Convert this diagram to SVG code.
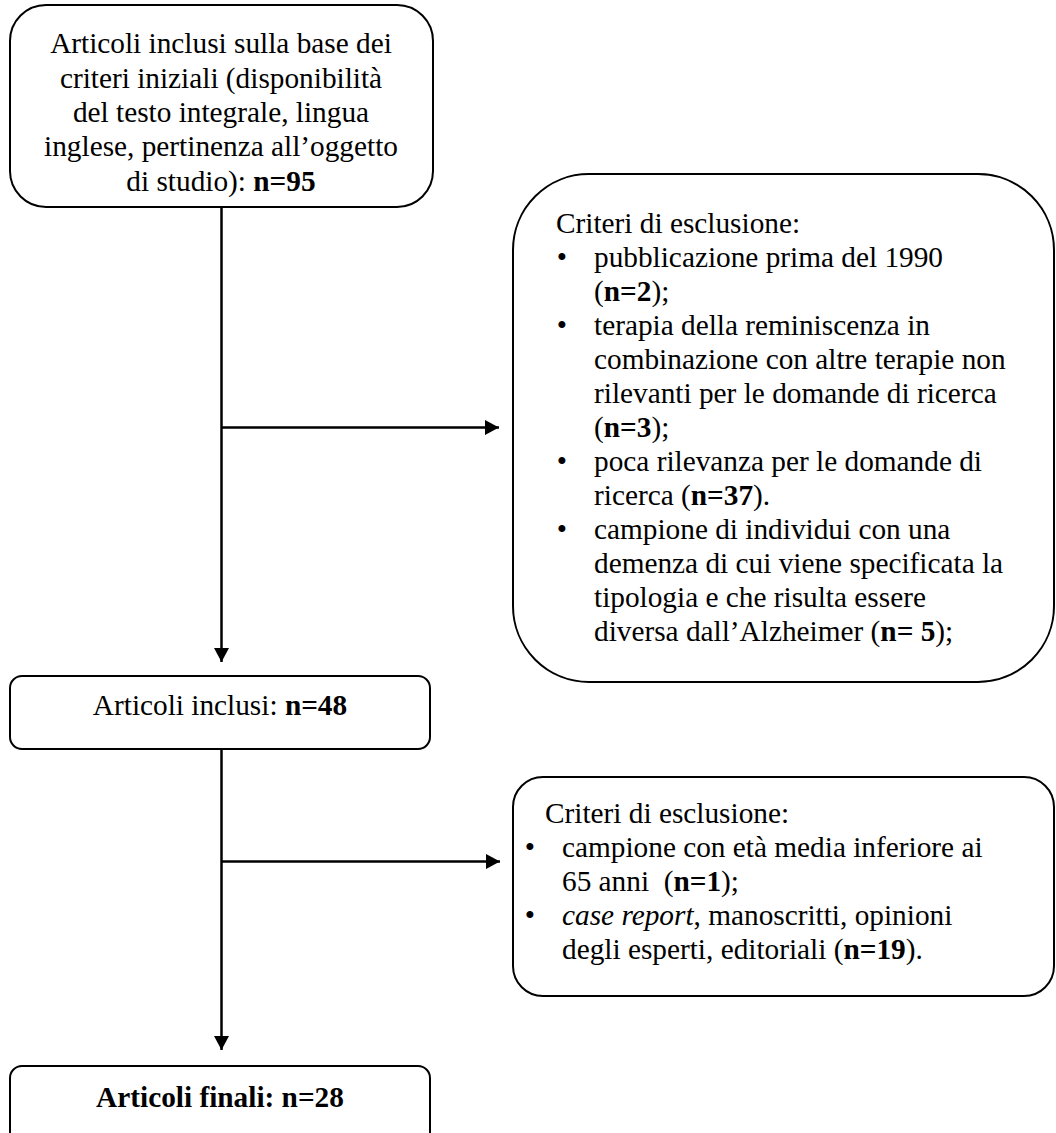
<svg xmlns="http://www.w3.org/2000/svg" width="1056" height="1133" viewBox="0 0 1056 1133">
<defs>
<style>
.box{fill:#fff;stroke:#000;stroke-width:2}
.t{font-family:"Liberation Serif","Times New Roman",serif;font-size:29.3px;fill:#000}
.c{text-anchor:middle}
.b{font-weight:bold}
.i{font-style:italic}
.ln{fill:none;stroke:#000;stroke-width:2.5;marker-end:url(#ah)}
</style>
<marker id="ah" markerUnits="userSpaceOnUse" viewBox="0 0 14 15" refX="14" refY="7.5" markerWidth="14" markerHeight="15" orient="auto">
<path d="M0,0 L14,7.5 L0,15 z" fill="#000"/>
</marker>
</defs>
<rect width="1056" height="1133" fill="#fff"/>
<g id="connectors">
<path class="ln" d="M221.5,207 V662"/>
<path class="ln" d="M221.5,427.5 H499"/>
<path class="ln" d="M221.5,749 V1050"/>
<path class="ln" d="M221.5,861.5 H500"/>
</g>
<g id="node-start">
<rect class="box" x="10" y="5" width="423" height="202" rx="36" ry="36"/>
<text class="t c" x="221"><tspan x="221" y="53">Articoli inclusi sulla base dei</tspan><tspan x="221" y="87.5">criteri iniziali (disponibilità</tspan><tspan x="221" y="122">del testo integrale, lingua</tspan><tspan x="221" y="156">inglese, pertinenza all’oggetto</tspan><tspan x="221" y="190.5">di studio): <tspan class="b">n=95</tspan></tspan></text>
</g>
<g id="node-excl1">
<rect class="box" x="513" y="174" width="541" height="508" rx="76" ry="76"/>
<text class="t" x="556" y="233">Criteri di esclusione:</text>
<text class="t c" x="562" y="267">•</text>
<text class="t" x="594" y="267">pubblicazione prima del 1990</text>
<text class="t" x="594" y="301">(<tspan class="b">n=2</tspan>);</text>
<text class="t c" x="562" y="335">•</text>
<text class="t" x="594" y="335">terapia della reminiscenza in</text>
<text class="t" x="594" y="369">combinazione con altre terapie non</text>
<text class="t" x="594" y="403">rilevanti per le domande di ricerca</text>
<text class="t" x="594" y="437">(<tspan class="b">n=3</tspan>);</text>
<text class="t c" x="562" y="471">•</text>
<text class="t" x="594" y="471">poca rilevanza per le domande di</text>
<text class="t" x="594" y="505">ricerca (<tspan class="b">n=37</tspan>).</text>
<text class="t c" x="562" y="539">•</text>
<text class="t" x="594" y="539">campione di individui con una</text>
<text class="t" x="594" y="573">demenza di cui viene specificata la</text>
<text class="t" x="594" y="607">tipologia e che risulta essere</text>
<text class="t" x="594" y="641">diversa dall’Alzheimer (<tspan class="b">n= 5</tspan>);</text>
</g>
<g id="node-included">
<rect class="box" x="10" y="676" width="420" height="73" rx="12" ry="12"/>
<text class="t c" x="220" y="715">Articoli inclusi: <tspan class="b">n=48</tspan></text>
</g>
<g id="node-excl2">
<rect class="box" x="513" y="777" width="541" height="219" rx="30" ry="30"/>
<text class="t" x="545" y="822.5">Criteri di esclusione:</text>
<text class="t c" x="530" y="856.5">•</text>
<text class="t" x="562" y="856.5">campione con età media inferiore ai</text>
<text class="t" x="562" y="890.5">65 anni &#160;(<tspan class="b">n=1</tspan>);</text>
<text class="t c" x="530" y="925">•</text>
<text class="t" x="562" y="925"><tspan class="i">case report</tspan>, manoscritti, opinioni</text>
<text class="t" x="562" y="959">degli esperti, editoriali (<tspan class="b">n=19</tspan>).</text>
</g>
<g id="node-final">
<rect class="box" x="10" y="1066" width="420" height="90" rx="12" ry="12"/>
<text class="t c b" x="220" y="1106.5">Articoli finali: n=28</text>
</g>
</svg>
